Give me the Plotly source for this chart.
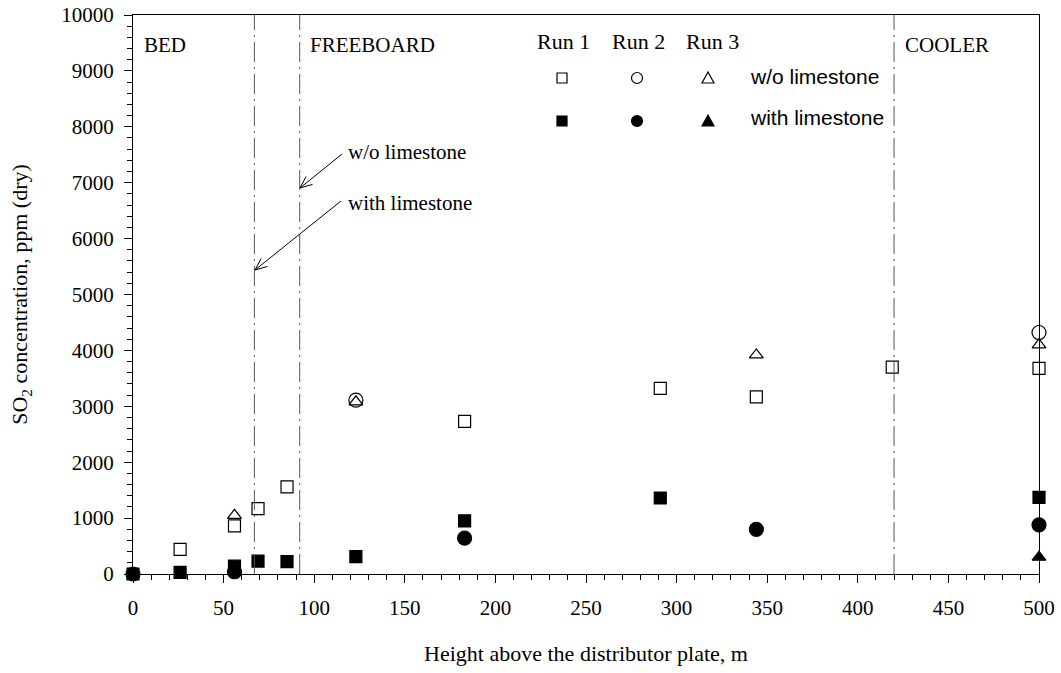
import plotly.graph_objects as go
import math

# ---------------- data ----------------
r1_open_x = [26, 56, 69, 85, 183, 291, 344, 419, 500]
r1_open_y = [440, 860, 1170, 1560, 2730, 3320, 3170, 3700, 3680]
r1_fill_x = [0, 26, 56, 69, 85, 123, 183, 291, 500]
r1_fill_y = [0, 30, 140, 230, 220, 310, 950, 1360, 1370]
r2_open_x = [123, 500]
r2_open_y = [3110, 4320]
r2_fill_x = [0, 56, 183, 344, 500]
r2_fill_y = [0, 40, 640, 800, 880]
r3_open_x = [56, 123, 344, 500]
r3_open_y = [1050, 3080, 3920, 4100]
r3_fill_x = [500]
r3_fill_y = [300]

zone_lines = [67, 92, 420]
zone_labels = ["BED", "FREEBOARD", "COOLER"]
run_labels = ["Run 1", "Run 2", "Run 3"]
legend_rows = ["w/o limestone", "with limestone"]

SERIF = "Liberation Serif, Times New Roman, serif"
SANS = "Liberation Sans, Arial, sans-serif"

# plot area in pixels
L, R, T, B = 133, 22, 15, 99
W, H = 1061, 673
PW, PH = W - L - R, H - T - B


def fx(px):
    return (px - L) / PW


def fy(py):
    return (H - B - py) / PH


fig = go.Figure()


def add(xs, ys, symbol, size):
    fig.add_trace(go.Scatter(
        x=xs, y=ys, mode="markers", cliponaxis=False, showlegend=False,
        marker=dict(symbol=symbol, size=size, color="black",
                    line=dict(color="black", width=1.2)),
    ))


add(r1_fill_x, r1_fill_y, "square", 12)
add(r2_fill_x, r2_fill_y, "circle", 14)
add(r3_fill_x, r3_fill_y, "triangle-up", 12)
add(r1_open_x, r1_open_y, "square-open", 12)
add(r2_open_x, r2_open_y, "circle-open", 14)
add(r3_open_x, r3_open_y, "triangle-up-open", 12)

shapes = []
for xv in zone_lines:
    shapes.append(dict(type="line", xref="x", yref="paper", x0=xv, x1=xv, y0=0, y1=1,
                       line=dict(color="#555555", width=1, dash="20px,5px,2px,5px")))


def arrow(tail, tip):
    out = [dict(type="line", xref="paper", yref="paper",
                x0=fx(tail[0]), y0=fy(tail[1]), x1=fx(tip[0]), y1=fy(tip[1]),
                line=dict(color="black", width=1))]
    ang = math.atan2(tail[1] - tip[1], tail[0] - tip[0])
    for d in (0.4, -0.4):
        a = ang + d
        bx = tip[0] + 13 * math.cos(a)
        by = tip[1] + 13 * math.sin(a)
        out.append(dict(type="line", xref="paper", yref="paper",
                        x0=fx(tip[0]), y0=fy(tip[1]), x1=fx(bx), y1=fy(by),
                        line=dict(color="black", width=1)))
    return out


shapes += arrow((342, 154), (300, 188))
shapes += arrow((341, 201), (255, 270))

# legend keys
key_cols = [562, 637, 708]
key_rows = [78, 121]
for ri, ry in enumerate(key_rows):
    fill = "black" if ri == 1 else "rgba(0,0,0,0)"
    shapes.append(dict(type="rect", xref="paper", yref="paper", xsizemode="pixel", ysizemode="pixel",
                       xanchor=fx(key_cols[0]), yanchor=fy(ry), x0=-5, x1=5, y0=-5, y1=5,
                       fillcolor=fill, line=dict(color="black", width=1.2)))
    shapes.append(dict(type="circle", xref="paper", yref="paper", xsizemode="pixel", ysizemode="pixel",
                       xanchor=fx(key_cols[1]), yanchor=fy(ry), x0=-5.5, x1=5.5, y0=-5.5, y1=5.5,
                       fillcolor=fill, line=dict(color="black", width=1.2)))
    shapes.append(dict(type="path", xref="paper", yref="paper", xsizemode="pixel", ysizemode="pixel",
                       xanchor=fx(key_cols[2]), yanchor=fy(ry), path="M -6,-5 L 6,-5 L 0,6 Z",
                       fillcolor=fill, line=dict(color="black", width=1.2)))

annotations = []
for xv, lab in zip([142, 308, 903], zone_labels):
    annotations.append(dict(text=lab, xref="paper", yref="paper", x=fx(xv), y=fy(45),
                            xanchor="left", yanchor="middle", showarrow=False,
                            font=dict(family=SERIF, size=21, color="black")))
for xv, lab in zip([563, 638, 712], run_labels):
    annotations.append(dict(text=lab, xref="paper", yref="paper", x=fx(xv), y=fy(42),
                            xanchor="center", yanchor="middle", showarrow=False,
                            font=dict(family=SERIF, size=22, color="black")))
for ry, lab in zip([77, 118], legend_rows):
    annotations.append(dict(text=lab, xref="paper", yref="paper", x=fx(748), y=fy(ry),
                            xanchor="left", yanchor="middle", showarrow=False,
                            font=dict(family=SANS, size=21, color="black")))
for ry, lab in zip([152, 203], legend_rows):
    annotations.append(dict(text=lab, xref="paper", yref="paper", x=fx(346), y=fy(ry),
                            xanchor="left", yanchor="middle", showarrow=False,
                            font=dict(family=SERIF, size=21, color="black")))

fig.update_layout(
    width=W, height=H,
    margin=dict(l=L, r=R, t=T, b=B, autoexpand=False),
    plot_bgcolor="white", paper_bgcolor="white",
    shapes=shapes, annotations=annotations,
    font=dict(family=SERIF, size=21, color="black"),
)
fig.update_xaxes(
    range=[0, 500], tickmode="linear", tick0=0, dtick=50, tickformat="d",
    showgrid=False, zeroline=False, showline=True, linecolor="black", linewidth=1.2, mirror=True,
    ticks="outside", ticklen=8, tickwidth=1.2, tickcolor="black", ticklabelstandoff=7,
    minor=dict(dtick=10, ticks="outside", ticklen=5, tickwidth=1, tickcolor="black", showgrid=False),
    tickfont=dict(family=SERIF, size=21),
    title=dict(text="Height above the distributor plate, m", font=dict(family=SERIF, size=22), standoff=26),
)
fig.update_yaxes(
    range=[0, 10000], tickmode="linear", tick0=0, dtick=1000, tickformat="d",
    showgrid=False, zeroline=False, showline=True, linecolor="black", linewidth=1.2, mirror=True,
    ticks="outside", ticklen=8, tickwidth=1.2, tickcolor="black", ticklabelstandoff=6,
    minor=dict(dtick=200, ticks="outside", ticklen=5, tickwidth=1, tickcolor="black", showgrid=False),
    tickfont=dict(family=SERIF, size=21),
    title=dict(text="SO<sub>2</sub> concentration, ppm (dry)", font=dict(family=SERIF, size=22), standoff=27),
)

fig.write_html("out.html", post_script="document.body.style.margin='0';",
               config={"displayModeBar": False})
